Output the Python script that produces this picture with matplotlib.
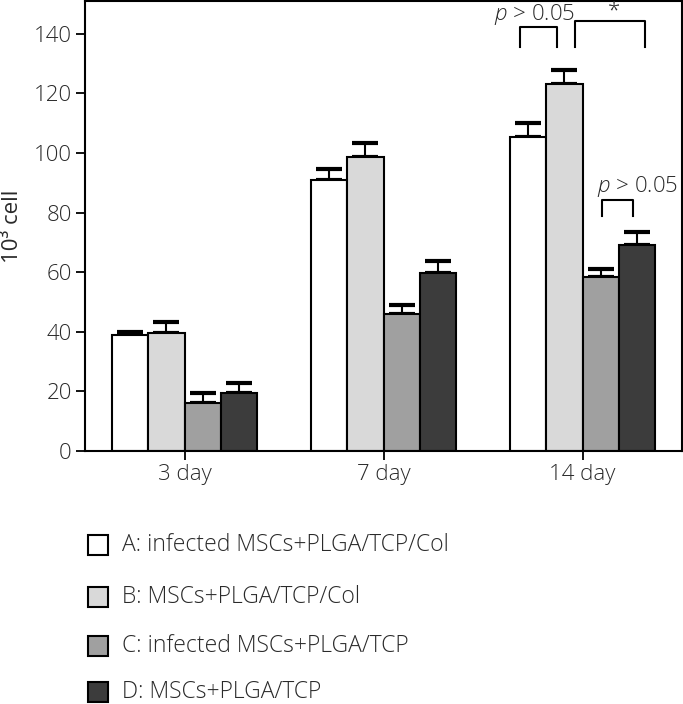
import matplotlib
matplotlib.use("Agg")
import matplotlib.pyplot as plt
from matplotlib.patches import Rectangle
import numpy as np

plt.rcParams['font.family'] = ['Open Sans', 'DejaVu Sans']
plt.rcParams['font.weight'] = 'light'
plt.rcParams['mathtext.fontset'] = 'custom'
plt.rcParams['mathtext.it'] = 'Open Sans:italic:light'
plt.rcParams['mathtext.rm'] = 'Open Sans:light'

days = ["3 day", "7 day", "14 day"]
groups = ["A: infected MSCs+PLGA/TCP/Col", "B: MSCs+PLGA/TCP/Col",
          "C: infected MSCs+PLGA/TCP", "D: MSCs+PLGA/TCP"]
values_A = [38.9, 91.0, 105.2]
values_B = [39.6, 98.5, 123.2]
values_C = [16.0, 46.0, 58.4]
values_D = [19.4, 59.8, 69.0]
err_A = [1.0, 3.7, 4.8]
err_B = [3.6, 4.8, 4.7]
err_C = [3.4, 3.0, 2.6]
err_D = [3.4, 3.9, 4.4]
colors = ["#ffffff", "#d9d9d9", "#a0a0a0", "#3c3c3c"]
yticks = [0, 20, 40, 60, 80, 100, 120, 140]

FS = 16
TXT = "#2a2a2a"

fig = plt.figure(figsize=(6.83, 7.04), dpi=100)
ax = fig.add_axes([85/683, 253/704, 597/683, 450/704])

x = np.arange(len(days))
w = 0.182
vals = [values_A, values_B, values_C, values_D]
errs = [err_A, err_B, err_C, err_D]
for i, (v, e, c) in enumerate(zip(vals, errs, colors)):
    xpos = x + (i - 1.5) * w
    ax.bar(xpos, v, width=w, color=c, edgecolor="black", linewidth=1.5, zorder=2)
    ax.errorbar(xpos, v, yerr=[np.zeros(len(e)), e], fmt="none", ecolor="black",
                elinewidth=1.5, capsize=9.5, capthick=3, zorder=1)

ax.set_xlim(-0.5, 2.5)
ax.set_ylim(0, 151)
ax.set_xticks(x)
ax.set_xticklabels(days)
ax.set_yticks(yticks)
ax.tick_params(axis="both", direction="out", length=6.5, width=1.3,
               labelsize=FS, colors="black", labelcolor=TXT, pad=3)
for s in ax.spines.values():
    s.set_linewidth(1.5)
ax.set_ylabel("10³ cell", fontsize=FS, color=TXT, labelpad=8)

# significance brackets
def bracket(x0, x1, ytop, ybot):
    ax.plot([x0, x0, x1, x1], [ybot, ytop, ytop, ybot], color="black",
            lw=1.5, clip_on=False)

bracket(1.685, 1.872, 142.3, 135.6)
bracket(1.960, 2.316, 144.3, 135.6)
bracket(2.097, 2.252, 84.3, 79.0)
ax.text(1.757, 146.5, "$p$ > 0.05", ha="center", va="center", fontsize=FS,
        color=TXT, clip_on=False)
ax.text(2.16, 147.5, "*", ha="center", va="center", fontsize=FS,
        color=TXT, clip_on=False)
ax.text(2.278, 88.8, "$p$ > 0.05", ha="center", va="center", fontsize=FS,
        color=TXT, clip_on=False)

# legend (manual)
row_y = [545, 597, 646, 692]
for lab, c, yc in zip(groups, colors, row_y):
    fig.add_artist(Rectangle((88/683, (704 - yc - 10)/704), 20/683, 20/704,
                             transform=fig.transFigure, facecolor=c,
                             edgecolor="black", linewidth=1.5))
    fig.text(122/683, (704 - yc)/704, lab, ha="left", va="center",
             fontsize=16.5, color=TXT)

fig.savefig("out.png", dpi=100)
